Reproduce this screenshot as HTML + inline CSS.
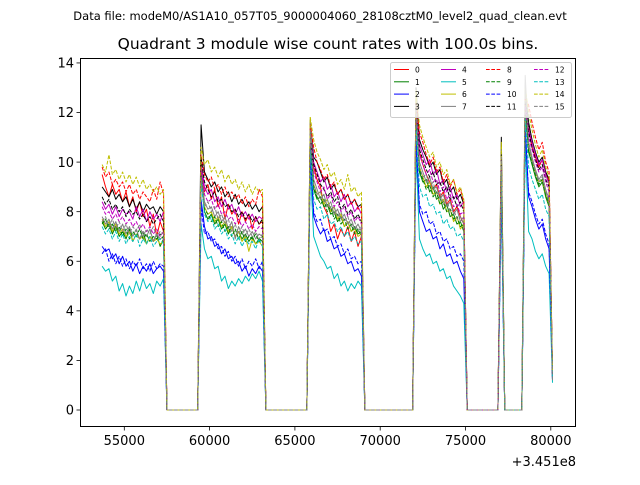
<!DOCTYPE html>
<html><head><meta charset="utf-8"><style>
body{margin:0;background:#fff;}
svg text{font-family:"DejaVu Sans","Liberation Sans",sans-serif;}
</style></head><body>
<svg id="chart" width="640" height="480" xmlns="http://www.w3.org/2000/svg">
<rect width="640" height="480" fill="#fff"/>
<text x="320" y="20" font-size="11.5" text-anchor="middle">Data file: modeM0/AS1A10_057T05_9000004060_28108cztM0_level2_quad_clean.evt</text>
<text x="328" y="49" font-size="15.5" text-anchor="middle">Quadrant 3 module wise count rates with 100.0s bins.</text>
<g id="plot"></g>
<rect x="80.5" y="58.5" width="495" height="368" fill="none" stroke="#000" stroke-width="1"/>
<g id="axes"></g>
<text x="576" y="466" font-size="13" text-anchor="end">+3.451e8</text>
<g id="legend"></g>
</svg>
<script>
const binStart = 53700;
const binWidth = 200;
const xTicks = [55000, 60000, 65000, 70000, 75000, 80000];
const yTicks = [0, 2, 4, 6, 8, 10, 12, 14];
const moduleLabels = ["0","1","2","3","4","5","6","7","8","9","10","11","12","13","14","15"];
const s0 = [9.5,9.0,8.6,9.1,8.7,8.9,8.4,8.8,8.2,8.6,8.0,8.4,7.8,8.1,7.4,7.9,7.0,7.6,7.2, 0,0,0,0,0,0,0,0,0,0, 10.0,8.8,9.1,8.5,8.9,8.2,8.6,7.7,8.3,7.9,8.1,7.5,8.0,7.6,7.9,7.3,7.8,7.5,7.6, 0,0,0,0,0,0,0,0,0,0,0,0,0, 11.2,9.8,9.3,9.0,8.2,7.9,7.2,7.5,6.9,7.3,7.0,7.4,6.8,7.2,6.6,7.0, 0,0,0,0,0,0,0,0,0,0,0,0,0,0,0, 12.0,10.4,9.9,9.5,9.2,8.9,9.1,8.6,8.8,8.3,8.5,8.0,8.2,7.8,7.5, 0,0,0,0,0,0,0,0,0,0, 10.0, 0,0,0,0,0,0, 12.2,11.4,10.6,10.2,9.8,10.1,9.6,9.2,1.5];
const s1 = [7.6,7.3,7.5,7.1,7.4,7.0,7.2,6.9,7.3,6.8,7.1,6.9,7.2,6.7,7.0,6.8,7.1,6.6,6.9, 0,0,0,0,0,0,0,0,0,0, 9.5,8.0,7.7,7.9,7.5,7.7,7.3,7.5,7.1,7.4,7.0,7.2,6.9,7.1,6.8,7.0,6.7,6.9,6.8, 0,0,0,0,0,0,0,0,0,0,0,0,0, 11.0,8.9,8.5,8.6,8.2,8.3,7.9,8.0,7.6,7.8,7.4,7.6,7.2,7.4,7.1,7.2, 0,0,0,0,0,0,0,0,0,0,0,0,0,0,0, 12.0,9.6,9.2,9.3,8.8,9.0,8.5,8.6,8.1,8.3,7.8,7.9,7.5,7.6,7.2, 0,0,0,0,0,0,0,0,0,0, 9.8, 0,0,0,0,0,0, 12.2,10.4,9.9,9.4,9.0,9.2,8.6,8.2,1.4];
const s2 = [6.6,6.4,6.5,6.1,6.3,5.9,6.2,5.8,6.0,5.6,5.9,5.5,5.8,5.6,5.9,5.5,5.7,5.8,5.6, 0,0,0,0,0,0,0,0,0,0, 8.5,7.4,6.9,7.0,6.6,6.7,6.3,6.5,6.1,6.2,5.9,6.0,5.6,5.8,5.4,5.7,5.5,5.8,5.6, 0,0,0,0,0,0,0,0,0,0,0,0,0, 10.5,7.8,7.4,7.1,7.3,6.8,6.9,6.5,6.6,6.2,6.3,5.9,6.0,5.6,5.7,5.4, 0,0,0,0,0,0,0,0,0,0,0,0,0,0,0, 11.0,8.0,7.6,7.2,7.3,6.9,7.0,6.5,6.7,6.2,6.3,5.9,6.0,5.6,5.3, 0,0,0,0,0,0,0,0,0,0, 9.0, 0,0,0,0,0,0, 11.5,8.6,8.2,7.7,7.3,7.5,6.9,6.5,1.2];
const s3 = [9.0,8.8,8.6,8.9,8.5,8.7,8.4,8.6,8.2,8.5,8.1,8.4,8.0,8.3,8.1,8.2,7.9,8.2,8.0, 0,0,0,0,0,0,0,0,0,0, 11.5,9.6,9.3,9.0,9.2,8.8,9.0,8.6,8.8,8.4,8.7,8.3,8.5,8.2,8.4,8.1,8.3,8.0,8.2, 0,0,0,0,0,0,0,0,0,0,0,0,0, 11.6,10.2,10.0,9.6,9.2,9.4,8.9,9.1,8.7,8.9,8.5,8.7,8.3,8.5,8.2,8.3, 0,0,0,0,0,0,0,0,0,0,0,0,0,0,0, 13.0,10.9,10.5,10.2,9.8,10.0,9.5,9.7,9.1,9.3,8.8,9.0,8.5,8.7,8.3, 0,0,0,0,0,0,0,0,0,0, 11.0, 0,0,0,0,0,0, 12.9,11.6,10.9,10.4,10.0,10.2,9.6,9.3,1.3];
const s4 = [8.4,8.1,8.3,7.9,8.2,7.8,8.1,7.9,8.0,7.7,8.2,7.8,8.1,7.6,8.0,7.7,7.9,7.6,8.0, 0,0,0,0,0,0,0,0,0,0, 10.0,9.0,8.7,8.9,8.4,8.6,8.2,8.5,8.1,8.3,7.9,8.2,7.8,8.0,7.7,7.9,7.6,7.8,7.7, 0,0,0,0,0,0,0,0,0,0,0,0,0, 11.4,10.0,9.6,9.2,9.4,8.9,9.1,8.6,8.8,8.4,8.7,8.2,8.4,8.0,8.2,7.9, 0,0,0,0,0,0,0,0,0,0,0,0,0,0,0, 12.3,10.7,10.3,9.9,10.1,9.5,9.7,9.1,9.3,8.8,9.0,8.5,8.7,8.2,8.4, 0,0,0,0,0,0,0,0,0,0, 10.1, 0,0,0,0,0,0, 12.5,11.3,10.8,10.3,9.9,10.1,9.5,9.1,1.4];
const s5 = [5.8,5.6,5.7,5.2,5.4,4.8,5.1,4.6,5.0,4.7,5.2,4.8,5.3,4.9,5.1,4.7,5.2,5.0,5.3, 0,0,0,0,0,0,0,0,0,0, 7.5,6.5,6.1,6.2,5.7,5.8,5.2,5.4,4.9,5.2,5.0,5.3,5.1,5.4,5.2,5.5,5.3,5.6,5.2, 0,0,0,0,0,0,0,0,0,0,0,0,0, 9.8,7.0,6.6,6.2,6.0,5.7,5.8,5.3,5.5,5.0,5.2,4.8,5.1,4.9,5.2,5.0, 0,0,0,0,0,0,0,0,0,0,0,0,0,0,0, 10.5,6.9,6.5,6.2,6.3,5.9,6.0,5.6,5.7,5.3,5.4,5.0,4.8,4.6,4.3, 0,0,0,0,0,0,0,0,0,0, 8.5, 0,0,0,0,0,0, 11.0,7.2,6.9,6.4,6.1,6.3,5.8,5.5,1.1];
const s6 = [7.7,7.4,7.6,7.2,7.5,7.1,7.3,7.0,7.2,6.8,7.1,6.9,7.0,6.7,7.0,6.8,6.9,6.7,6.8, 0,0,0,0,0,0,0,0,0,0, 9.9,8.2,7.9,8.0,7.6,7.8,7.4,7.6,7.2,7.4,7.0,7.2,6.8,7.0,6.4,6.9,6.7,6.8,6.6, 0,0,0,0,0,0,0,0,0,0,0,0,0, 11.8,9.1,8.7,8.8,8.3,8.5,8.0,8.2,7.7,7.9,7.4,7.6,7.2,7.3,7.0,7.1, 0,0,0,0,0,0,0,0,0,0,0,0,0,0,0, 12.9,9.8,9.4,9.0,9.2,8.7,8.8,8.3,8.5,8.0,8.1,7.6,7.8,7.3,7.5, 0,0,0,0,0,0,0,0,0,0, 10.8, 0,0,0,0,0,0, 12.8,10.6,10.1,9.6,9.2,9.3,8.7,8.3,1.5];
const s7 = [7.8,7.5,7.7,7.3,7.6,7.2,7.5,7.1,7.4,7.0,7.3,6.9,7.2,7.0,7.3,6.8,7.1,6.9,7.0, 0,0,0,0,0,0,0,0,0,0, 9.6,8.4,8.1,8.2,7.8,8.0,7.6,7.8,7.3,7.6,6.9,7.4,7.1,7.3,7.0,7.2,6.9,7.1,7.0, 0,0,0,0,0,0,0,0,0,0,0,0,0, 11.7,9.3,8.9,8.5,8.7,8.2,8.4,7.9,8.1,7.7,7.9,7.5,7.7,7.3,7.5,7.2, 0,0,0,0,0,0,0,0,0,0,0,0,0,0,0, 12.5,10.0,9.6,9.2,9.4,8.9,9.0,8.5,8.7,8.2,8.4,7.9,8.1,7.6,7.8, 0,0,0,0,0,0,0,0,0,0, 10.5, 0,0,0,0,0,0, 13.5,10.8,10.2,9.7,9.3,9.5,8.9,8.5,1.2];
const s8 = [9.8,9.4,9.6,9.1,9.3,9.0,9.2,8.8,9.1,8.7,8.9,8.5,8.8,8.6,8.4,8.9,8.5,9.2,8.7, 0,0,0,0,0,0,0,0,0,0, 10.3,9.5,9.2,9.4,8.9,9.1,8.7,9.0,8.6,8.8,8.5,8.7,8.3,8.6,8.2,8.5,8.3,8.9,8.6, 0,0,0,0,0,0,0,0,0,0,0,0,0, 11.5,10.6,10.0,9.7,9.3,9.5,9.0,9.2,8.7,8.9,8.5,8.7,8.3,8.5,8.1,8.2, 0,0,0,0,0,0,0,0,0,0,0,0,0,0,0, 12.4,11.2,10.8,10.3,9.9,10.2,9.6,9.8,9.2,9.5,9.0,9.3,8.7,8.9,8.4, 0,0,0,0,0,0,0,0,0,0, 10.2, 0,0,0,0,0,0, 12.6,12.3,11.6,11.0,10.5,10.8,10.0,9.6,1.4];
const s9 = [7.5,7.7,7.3,7.5,7.2,7.4,7.0,7.3,6.9,7.2,7.0,7.3,6.9,7.1,6.8,7.0,6.9,7.1,6.9, 0,0,0,0,0,0,0,0,0,0, 9.7,8.1,7.9,7.6,7.8,7.4,7.6,7.2,7.4,7.0,7.3,6.9,7.2,6.8,7.0,6.9,7.1,6.8,7.0, 0,0,0,0,0,0,0,0,0,0,0,0,0, 11.2,9.0,8.6,8.3,8.5,8.0,8.2,7.7,7.9,7.5,7.7,7.3,7.5,7.1,7.3,7.0, 0,0,0,0,0,0,0,0,0,0,0,0,0,0,0, 12.1,9.7,9.3,8.9,9.1,8.6,8.8,8.3,8.4,8.0,8.1,7.7,7.8,7.4,7.5, 0,0,0,0,0,0,0,0,0,0, 9.9, 0,0,0,0,0,0, 12.4,10.5,10.0,9.5,9.1,9.3,8.7,8.3,1.4];
const s10 = [6.3,6.5,6.0,6.3,5.9,6.2,5.8,6.1,5.7,6.0,5.8,6.1,5.7,5.9,5.6,6.0,5.7,5.9,5.8, 0,0,0,0,0,0,0,0,0,0, 8.2,7.1,7.2,6.8,6.9,6.5,6.6,6.2,6.4,6.0,6.2,5.8,6.1,5.7,6.0,5.8,6.1,5.7,6.0, 0,0,0,0,0,0,0,0,0,0,0,0,0, 10.2,8.0,7.6,7.7,7.2,7.3,6.9,7.0,6.6,6.7,6.3,6.5,6.1,6.2,5.9,6.0, 0,0,0,0,0,0,0,0,0,0,0,0,0,0,0, 10.8,8.3,7.9,8.0,7.5,7.6,7.1,7.2,6.8,6.9,6.5,6.6,6.2,6.3,6.0, 0,0,0,0,0,0,0,0,0,0, 8.8, 0,0,0,0,0,0, 11.2,8.8,8.4,7.9,7.5,7.7,7.1,6.7,1.2];
const s11 = [8.6,8.3,8.5,8.1,8.3,8.0,8.2,7.8,8.1,7.9,8.0,7.7,7.9,7.6,7.8,7.5,7.7,7.9,7.6, 0,0,0,0,0,0,0,0,0,0, 10.2,9.2,8.9,8.6,8.8,8.4,8.5,8.2,8.3,8.0,8.1,7.8,8.0,7.7,7.9,7.6,7.8,7.5,7.7, 0,0,0,0,0,0,0,0,0,0,0,0,0, 11.0,9.9,9.5,9.1,8.9,8.6,8.8,8.4,8.6,8.1,8.3,7.9,8.1,7.7,7.9,7.6, 0,0,0,0,0,0,0,0,0,0,0,0,0,0,0, 12.2,10.5,10.1,9.7,9.4,9.6,9.1,9.2,8.8,9.0,8.5,8.6,8.2,8.4,8.0, 0,0,0,0,0,0,0,0,0,0, 10.4, 0,0,0,0,0,0, 12.4,11.2,10.6,10.1,9.7,9.9,9.3,9.0,1.3];
const s12 = [8.2,7.9,8.0,7.7,7.9,7.6,7.8,7.5,7.7,7.4,7.6,7.3,7.5,7.2,7.4,7.1,7.3,7.0,7.2, 0,0,0,0,0,0,0,0,0,0, 9.8,8.7,8.4,8.5,8.1,8.3,7.9,8.0,7.7,7.8,7.5,7.7,7.4,7.6,7.3,7.5,7.2,7.4,7.3, 0,0,0,0,0,0,0,0,0,0,0,0,0, 11.0,9.6,9.2,8.8,9.0,8.5,8.7,8.2,8.4,8.0,8.2,7.8,8.0,7.6,7.8,7.5, 0,0,0,0,0,0,0,0,0,0,0,0,0,0,0, 12.0,10.3,9.9,9.5,9.7,9.2,9.3,8.8,9.0,8.5,8.7,8.2,8.3,7.9,8.0, 0,0,0,0,0,0,0,0,0,0, 9.8, 0,0,0,0,0,0, 12.3,11.0,10.5,10.0,9.6,9.8,9.2,8.8,1.3];
const s13 = [7.4,7.1,7.3,6.9,7.2,6.8,7.1,6.7,7.0,6.8,7.1,6.6,6.9,6.7,7.0,6.6,6.8,6.9,6.7, 0,0,0,0,0,0,0,0,0,0, 9.2,7.9,7.6,7.8,7.3,7.5,7.1,7.3,6.9,7.1,6.7,7.0,6.6,6.9,6.7,6.8,6.5,6.9,6.6, 0,0,0,0,0,0,0,0,0,0,0,0,0, 10.5,8.5,8.1,8.2,7.7,7.9,7.5,7.6,7.2,7.4,7.0,7.2,6.8,7.0,6.7,6.8, 0,0,0,0,0,0,0,0,0,0,0,0,0,0,0, 11.5,9.0,8.6,8.7,8.2,8.3,7.9,8.0,7.5,7.7,7.3,7.4,7.0,7.1,6.8, 0,0,0,0,0,0,0,0,0,0, 9.5, 0,0,0,0,0,0, 11.8,9.8,9.3,8.9,8.5,8.7,8.1,7.8,1.3];
const s14 = [9.9,9.6,10.3,9.5,9.7,9.3,9.6,9.2,9.5,9.1,9.4,9.0,9.3,8.9,9.1,8.8,9.0,8.7,8.9, 0,0,0,0,0,0,0,0,0,0, 10.6,9.9,10.1,9.6,9.8,9.4,9.7,9.2,9.5,9.1,9.3,8.9,9.2,8.8,9.1,8.7,9.0,8.8,8.9, 0,0,0,0,0,0,0,0,0,0,0,0,0, 11.8,10.9,10.4,10.1,9.7,9.9,9.4,9.6,9.1,9.3,8.9,9.5,8.8,9.0,8.6,8.8, 0,0,0,0,0,0,0,0,0,0,0,0,0,0,0, 12.8,11.5,11.0,10.6,10.2,10.4,9.8,10.0,9.5,9.7,9.1,9.3,8.8,9.0,8.5, 0,0,0,0,0,0,0,0,0,0, 10.6, 0,0,0,0,0,0, 13.0,12.0,11.3,10.7,10.2,10.5,9.8,9.4,1.6];
const s15 = [7.6,7.8,7.4,7.7,7.3,7.6,7.2,7.5,7.1,7.4,7.2,7.5,7.0,7.3,7.1,7.4,7.0,7.2,7.1, 0,0,0,0,0,0,0,0,0,0, 9.4,8.2,8.4,8.0,8.2,7.7,7.9,7.5,7.7,7.2,7.5,7.1,7.4,7.0,7.3,7.0,7.2,6.9,7.1, 0,0,0,0,0,0,0,0,0,0,0,0,0, 11.3,9.1,8.7,8.8,8.4,8.5,8.1,8.2,7.8,8.0,7.6,7.8,7.4,7.6,7.2,7.4, 0,0,0,0,0,0,0,0,0,0,0,0,0,0,0, 12.3,9.8,9.4,9.5,9.0,9.2,8.7,8.8,8.3,8.5,8.0,8.1,7.7,7.8,7.5, 0,0,0,0,0,0,0,0,0,0, 10.2, 0,0,0,0,0,0, 13.2,10.6,10.1,9.6,9.2,9.4,8.8,8.4,1.2];

const series = [s0,s1,s2,s3,s4,s5,s6,s7,s8,s9,s10,s11,s12,s13,s14,s15];
const colors = ["#ff0000","#008000","#0000ff","#000000","#bf00bf","#00bfbf","#bfbf00","#808080"];
const NS = "http://www.w3.org/2000/svg";

function xScale(t){ return 124.3 + (t - 55000) * 85.3 / 5000; }
function yScale(v){ return 410 - v * 24.79; }
function mk(tag, attrs, parent){
  const e = document.createElementNS(NS, tag);
  for (const k in attrs) e.setAttribute(k, attrs[k]);
  parent.appendChild(e);
  return e;
}

const plot = document.getElementById('plot');
series.forEach((vals, si) => {
  const pts = vals.map((v, i) => xScale(binStart + i * binWidth).toFixed(2) + ',' + yScale(v).toFixed(2)).join(' ');
  const line = mk('polyline', {points: pts, fill: 'none', stroke: colors[si % 8], 'stroke-width': 1, 'stroke-linejoin': 'round'}, plot);
  if (si >= 8) line.setAttribute('stroke-dasharray', '3.7,1.6');
  
  
});

const axes = document.getElementById('axes');
xTicks.forEach(t => {
  const x = xScale(t);
  const tk = mk('line', {x1: x, x2: x, y1: 427, y2: 430.5, stroke: '#000', 'stroke-width': 0.8}, axes);
  
  
  const lb = mk('text', {x: x, y: 445, 'font-size': 13, 'text-anchor': 'middle'}, axes);
  lb.textContent = t;
  
  
});
yTicks.forEach(v => {
  const y = yScale(v);
  const tk = mk('line', {x1: 76.5, x2: 80, y1: y, y2: y, stroke: '#000', 'stroke-width': 0.8}, axes);
  
  
  const lb = mk('text', {x: 74, y: y + 4.7, 'font-size': 13, 'text-anchor': 'end'}, axes);
  lb.textContent = v;
  
  
});

const legend = document.getElementById('legend');
const bg = mk('rect', {x: 390.5, y: 62.5, width: 181, height: 55, rx: 2, fill: '#fff', 'fill-opacity': 0.8, stroke: '#ccc', 'stroke-width': 1}, legend);


const colX = [394, 441, 486, 534];
moduleLabels.forEach((lab, si) => {
  const col = Math.floor(si / 4), row = si % 4;
  const x = colX[col], y = 69.5 + row * 12.3;
  const g = mk('g', {}, legend);
  
  
  const ln = mk('line', {x1: x, x2: x + 15, y1: y, y2: y, stroke: colors[si % 8], 'stroke-width': 1}, g);
  if (si >= 8) ln.setAttribute('stroke-dasharray', '3.7,1.6');
  const tx = mk('text', {x: x + 21, y: y + 3, 'font-size': 7.5}, g);
  tx.textContent = lab;
});
</script>
</body></html>
